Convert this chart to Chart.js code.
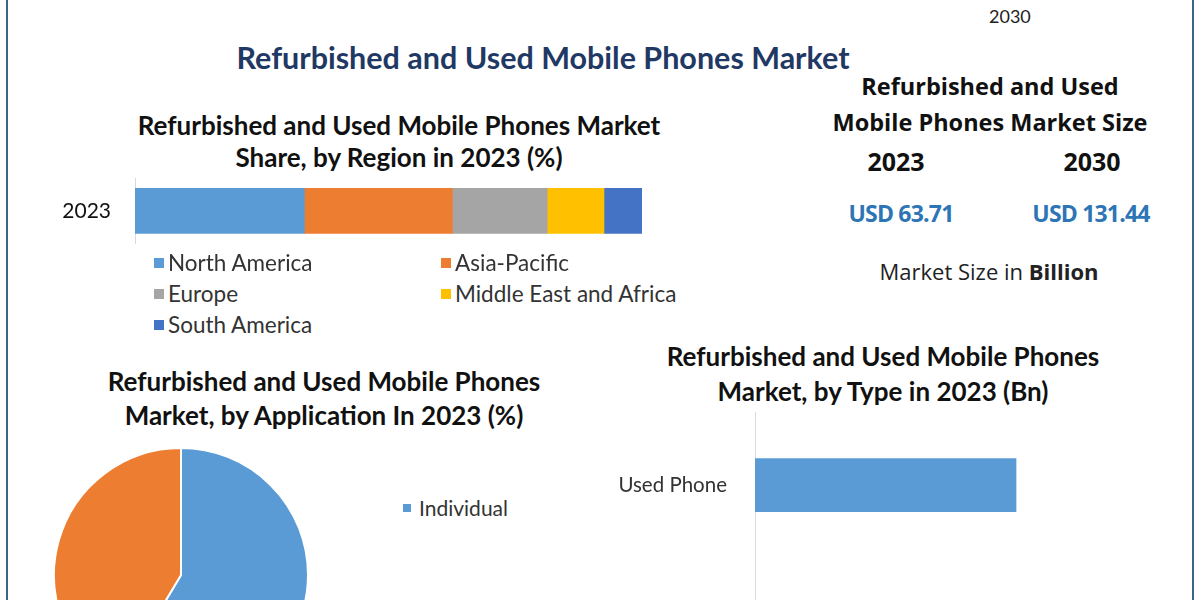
<!DOCTYPE html>
<html>
<head>
<meta charset="utf-8">
<script src="https://cdn.jsdelivr.net/npm/chart.js@4.4.1/dist/chart.umd.min.js"></script>
<style>
  html, body { margin: 0; padding: 0; background: #fff; }
  body { width: 1200px; height: 600px; overflow: hidden; position: relative; font-family: Lato, "Noto Sans", sans-serif; }
  .abs { position: absolute; }
  .frame { left: 6px; top: 0; width: 1184px; height: 600px; border-left: 2px solid #3a6682; border-right: 2px solid #3a6682; }
  .ttl { font-weight: 700; color: #111; text-align: center; white-space: nowrap; }
  .panel { font-family: "Open Sans", "Noto Sans", sans-serif; font-weight: 700; color: #111; text-align: center; white-space: nowrap; }
  .usd { color: #2e75b6; font-family: "Open Sans", sans-serif; font-weight: 700; font-size: 23px; letter-spacing: -0.8px; }
  .leg { font-size: 22.5px; color: #333; white-space: nowrap; display: flex; align-items: center; }
  .leg i { display: inline-block; width: 10px; height: 10px; margin-right: 4px; }
</style>
</head>
<body>
<div class="abs frame"></div>

<div class="abs" style="left:989px; top:5px; font-size:18px; color:#222;">2030</div>

<div class="abs ttl" style="left:0; width:1086px; top:39px; font-size:30.5px; color:#1f3864;">Refurbished and Used Mobile Phones Market</div>

<!-- region share title -->
<div class="abs ttl" style="left:0; width:798px; top:109px; font-size:26px; line-height:32px;">Refurbished and Used Mobile Phones Market<br>Share, by Region in 2023 (%)</div>
<div class="abs" style="left:40px; top:150px; width:602px; height:125px;"><canvas id="regionChart"></canvas></div>
<div id="regionLegend"></div>

<!-- market size panel -->
<div class="abs panel" style="left:790px; width:400px; top:68px; font-size:23.5px; line-height:36px;">Refurbished and Used<br>Mobile Phones Market Size</div>
<div class="abs panel" style="left:846px; width:100px; top:144px; font-size:25px;">2023</div>
<div class="abs panel" style="left:1042px; width:100px; top:144px; font-size:25px;">2030</div>
<div class="abs usd" style="left:801px; width:200px; top:197px; text-align:center;">USD 63.71</div>
<div class="abs usd" style="left:991px; width:200px; top:197px; text-align:center;">USD 131.44</div>
<div class="abs" style="left:789px; width:400px; top:256px; text-align:center; font-family:'Open Sans',sans-serif; font-size:22px; color:#222;">Market Size in <b>Billion</b></div>

<!-- application pie -->
<div class="abs ttl" style="left:0; width:648px; top:364px; font-size:26px; line-height:34px;">Refurbished and Used Mobile Phones<br>Market, by Application In 2023 (%)</div>
<div class="abs" style="left:53px; top:447px; width:256px; height:256px;"><canvas id="appChart"></canvas></div>
<div id="appLegend"></div>

<!-- type bar -->
<div class="abs ttl" style="left:583px; width:600px; top:339px; font-size:26px; line-height:35px;">Refurbished and Used Mobile Phones<br>Market, by Type in 2023 (Bn)</div>
<div class="abs" style="left:600px; top:380px; width:565px; height:356px;"><canvas id="typeChart"></canvas></div>

<script>
// region share, 2023 (%)
const regionYear = ['2023'];
const regionLabels = ['North America', 'Asia-Pacific', 'Europe', 'Middle East and Africa', 'South America'];
const regionValues = [33.4, 29.2, 18.7, 11.2, 7.5];
const regionColors = ['#5b9bd5', '#ed7d31', '#a5a5a5', '#ffc000', '#4472c4'];

// application share, 2023 (%)
const appLabels = ['Individual', 'Commercial'];
const appValues = [58.6, 41.4];
const appColors = ['#5b9bd5', '#ed7d31'];

// type, 2023 (Bn)
const typeLabels = ['Used Phone', 'Refurbished Phone'];
const typeValues = [38.2, 25.5];

Chart.defaults.font.family = 'Lato, "Noto Sans", sans-serif';
Chart.defaults.animation = false;

new Chart(document.getElementById('regionChart'), {
  type: 'bar',
  data: {
    labels: regionYear,
    datasets: regionLabels.map((name, i) => ({
      label: name,
      data: [regionValues[i]],
      backgroundColor: regionColors[i],
      barThickness: 45
    }))
  },
  options: {
    indexAxis: 'y',
    responsive: true,
    maintainAspectRatio: false,
    layout: { padding: { bottom: 32 } },
    plugins: { legend: { display: false }, tooltip: { enabled: false } },
    scales: {
      x: { stacked: true, min: 0, max: 100, display: false },
      y: {
        stacked: true,
        grid: { display: false },
        border: { color: '#d9d9d9' },
        ticks: { color: '#111', font: { size: 21 }, padding: 16 },
        afterFit: (s) => { s.width = 95; }
      }
    }
  }
});

// legend for region chart (two columns)
const regLeg = document.getElementById('regionLegend');
regionLabels.forEach((name, i) => {
  const d = document.createElement('div');
  d.className = 'abs leg';
  d.style.left = (i % 2 ? 441 : 154) + 'px';
  d.style.top = (249 + Math.floor(i / 2) * 31) + 'px';
  d.innerHTML = '<i style="background:' + regionColors[i] + '"></i>' + name;
  regLeg.appendChild(d);
});

new Chart(document.getElementById('appChart'), {
  type: 'pie',
  data: {
    labels: appLabels,
    datasets: [{ data: appValues, backgroundColor: appColors, borderColor: '#fff', borderWidth: 2 }]
  },
  options: {
    responsive: true,
    maintainAspectRatio: false,
    plugins: { legend: { display: false }, tooltip: { enabled: false } }
  }
});

// only the first legend entry falls inside the visible crop
const appLeg = document.getElementById('appLegend');
appLabels.slice(0, 1).forEach((name, i) => {
  const d = document.createElement('div');
  d.className = 'abs leg';
  d.style.left = '403px';
  d.style.top = '495px';
  d.style.fontSize = '21px';
  d.innerHTML = '<i style="background:' + appColors[i] + ';width:8px;height:8px;margin-right:8px"></i>' + name;
  appLeg.appendChild(d);
});

new Chart(document.getElementById('typeChart'), {
  type: 'bar',
  data: {
    labels: typeLabels,
    datasets: [{ data: typeValues, backgroundColor: '#5b9bd5', barThickness: 53 }]
  },
  options: {
    indexAxis: 'y',
    responsive: true,
    maintainAspectRatio: false,
    plugins: { legend: { display: false }, tooltip: { enabled: false } },
    scales: {
      x: { min: 0, max: 60, display: false },
      y: {
        grid: { display: false },
        border: { color: '#d9d9d9' },
        ticks: { color: '#333', font: { size: 20.5 }, padding: 20 },
        afterFit: (s) => { s.width = 155; }
      }
    }
  }
});
</script>
</body>
</html>
